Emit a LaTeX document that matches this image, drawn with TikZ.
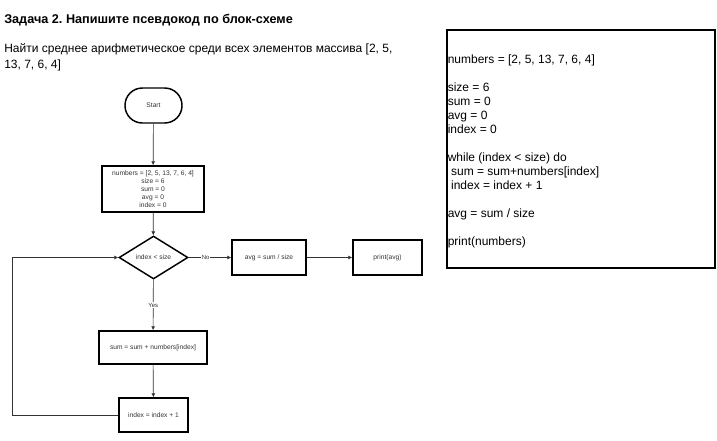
\documentclass[tikz,border=0pt]{standalone}
\usepackage{fontspec}
\setmainfont{Liberation Sans}
\usetikzlibrary{shapes.geometric, arrows.meta}
\frenchspacing

\begin{document}
\begin{tikzpicture}[x=0.75pt, y=-0.75pt,
    box/.style={draw, line width=1.1pt, inner sep=1pt, align=center, text=black!80, font=\fontsize{5}{6}\selectfont},
    link/.style={-{Latex[length=3pt,width=3pt]}, black!80, line width=0.5pt},
    tag/.style={fill=white, inner sep=0.5pt, text=black!80, font=\fontsize{4.5}{5}\selectfont}]
    \useasboundingbox (0,0) rectangle (717,440);

    \node[anchor=west, inner sep=0, font=\bfseries\fontsize{9.5}{11}\selectfont] (title) at (4,20) {Задача 2. Напишите псевдокод по блок-схеме};
    \node[anchor=north west, align=left, inner sep=0, font=\fontsize{9}{12}\selectfont] (task) at (4,43) {Найти среднее арифметическое среди всех элементов массива [2, 5,\\13, 7, 6, 4]};

    % flowchart
    \node[box, rounded corners=13pt, minimum width=42.75pt, minimum height=26.25pt] (start) at (153.5,105.5) {Start};
    \node[box, minimum width=76.5pt, minimum height=34.5pt] (init) at (153,189) {numbers = [2, 5, 13, 7, 6, 4]\\size = 6\\sum = 0\\avg = 0\\index = 0};
    \node[box, diamond, aspect=1.6, inner sep=0pt, minimum width=51.75pt, minimum height=32.25pt] (cond) at (153.5,257.5) {index < size};
    \node[box, minimum width=55.5pt, minimum height=26.25pt] (avg) at (269,257.5) {avg = sum / size};
    \node[box, minimum width=51.75pt, minimum height=26.25pt] (print) at (387.5,257.5) {print(avg)};
    \node[box, minimum width=81pt, minimum height=24.75pt] (sum) at (153,347.5) {sum = sum + numbers[index]};
    \node[box, minimum width=51.75pt, minimum height=25.5pt] (inc) at (153.5,415) {index = index + 1};
    \coordinate (back) at (12,257.5);

    \draw[link] (start) -- (init);
    \draw[link] (init) -- (cond);
    \draw[link] (cond) -- node[tag, pos=0.4] {No} (avg);
    \draw[link] (avg) -- (print);
    \draw[link] (cond) -- node[tag] {Yes} (sum);
    \draw[link] (sum) -- (inc);
    \draw[link] (inc.west) -| (back) -- (cond.west);

    % pseudocode
    \node[draw, line width=1.5pt, inner sep=0, minimum width=201pt, minimum height=178.5pt] (codebox) at (581,148.5) {};
    \node[anchor=north west, align=left, inner sep=0, font=\fontsize{9}{10.5}\selectfont] (code) at (447.5,54.5) {numbers = [2, 5, 13, 7, 6, 4]\\[10.5pt]
        size = 6\\sum = 0\\avg = 0\\index = 0\\[10.5pt]
        while (index < size) do\\\ sum = sum+numbers[index]\\\ index = index + 1\\[10.5pt]
        avg = sum / size\\[10.5pt]
        print(numbers)};
\end{tikzpicture}
\end{document}
